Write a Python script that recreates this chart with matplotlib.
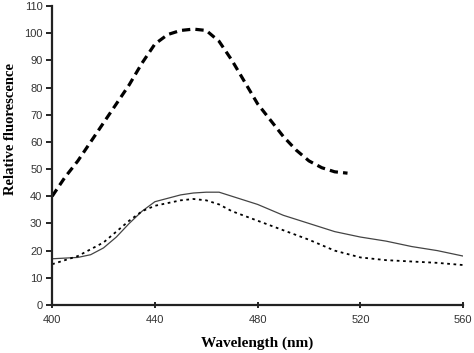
import matplotlib.pyplot as plt

# ===================== Data =====================
wl_dashed = [400, 405, 410, 415, 420, 425, 430, 435, 440, 445, 450, 455,
             460, 465, 470, 475, 480, 485, 490, 495, 500, 505, 510, 515]
fl_dashed = [40, 47, 53, 60, 67, 74, 81, 89, 96, 99.5, 101, 101.5,
             101, 97, 90, 82, 74, 68, 62, 57, 53, 50.5, 49, 48.5]

wl = [400, 410, 415, 420, 425, 430, 435, 440, 450, 455, 460, 465, 470,
      480, 490, 500, 510, 520, 530, 540, 550, 560]
fl_solid = [17, 17.5, 18.5, 21, 25, 30, 34.5, 38, 40.5, 41.2, 41.5, 41.5, 40,
            37, 33, 30, 27, 25, 23.5, 21.5, 20, 18]
fl_dotted = [15, 18, 20.5, 23, 27, 31, 34.5, 36.5, 38.5, 39, 38.5, 37, 34.5,
             31, 27.5, 24, 20, 17.5, 16.5, 16, 15.5, 14.7]

x_ticks = [400, 440, 480, 520, 560]
y_ticks = list(range(0, 111, 10))

# ===================== Plot =====================
fig = plt.figure(figsize=(4.74, 3.53), dpi=100)
ax = fig.add_axes([0.110, 0.136, 0.867, 0.847])

ax.plot(wl_dashed, fl_dashed, color="black", lw=2.3, linestyle=(0, (2.6, 1.6)))
ax.plot(wl, fl_solid, color="#444444", lw=0.9)
ax.plot(wl, fl_dotted, color="black", lw=1.3, linestyle=(0, (1.5, 2.0)))

ax.set_xlim(400, 560)
ax.set_ylim(0, 110)
ax.set_xticks(x_ticks)
ax.set_yticks(y_ticks)

for s in ["top", "right"]:
    ax.spines[s].set_visible(False)
for s in ["left", "bottom"]:
    ax.spines[s].set_linewidth(1.6)
    ax.spines[s].set_color("#222222")

tick_font = {"family": "Liberation Sans", "size": 8}
ax.set_xticklabels([str(t) for t in x_ticks], fontdict=tick_font, color="#333333")
ax.set_yticklabels([str(t) for t in y_ticks], fontdict=tick_font, color="#333333")
ax.tick_params(axis="x", direction="inout", length=5, width=1.2, pad=5)
ax.tick_params(axis="y", direction="out", length=4, width=1.2, pad=3)

ax.set_xlabel("Wavelength (nm)", fontfamily="Liberation Serif", fontweight="bold",
              fontsize=11, labelpad=8)
ax.set_ylabel("Relative fluorescence", fontfamily="Liberation Serif", fontweight="bold",
              fontsize=10.5, va="center")
ax.yaxis.set_label_coords(-0.102, 0.59)

fig.savefig("out.png", dpi=100)
